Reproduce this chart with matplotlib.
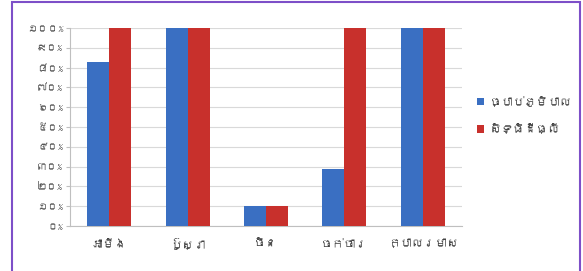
import numpy as np
import matplotlib
matplotlib.use('Agg')
import matplotlib.pyplot as plt
from matplotlib import font_manager
from matplotlib.ft2font import FT2Font
from matplotlib.patches import Rectangle

categories = ['អាមីង', 'ប៊ូស្រា', 'ចិន', 'ចក់ចារ', 'ក្បាលរមាស']
series_names = ['ច្បាប់ភូមិបាល', 'សិទ្ធិដីធ្លី']
land_law = [83, 100, 10, 29, 100]
land_rights = [100, 100, 10, 100, 100]
ytick_labels = ['០%', '១០%', '២០%', '៣០%', '៤០%', '៥០%', '៦០%', '៧០%', '៨០%', '៩០%', '១០០%']


def khmer_families():
    found = []
    for f in font_manager.fontManager.ttflist:
        try:
            if 0x1780 in FT2Font(f.fname).get_charmap() and f.name not in found:
                found.append(f.name)
        except Exception:
            pass
    return found


fams = khmer_families() + ['DejaVu Sans']
plt.rcParams['font.family'] = fams

fig = plt.figure(figsize=(5.83, 2.71), dpi=100)
ax = fig.add_axes([70 / 583, 45 / 271, 392 / 583, 198 / 271])

x = np.arange(len(categories))
w = 0.28
ax.bar(x - w / 2, land_law, w, color='#3a6fc2', label=series_names[0], zorder=3)
ax.bar(x + w / 2, land_rights, w, color='#c8302c', label=series_names[1], zorder=3)

ax.set_xlim(-0.5, len(categories) - 0.5)
ax.set_ylim(0, 100)
ax.set_yticks(np.arange(0, 101, 10))
ax.set_yticklabels(ytick_labels, fontsize=7.5, color='#555555')
ax.set_xticks(x)
ax.set_xticklabels(categories, fontsize=8.5, color='#444444')
ax.grid(axis='y', color='#d9d9d9', linewidth=0.8, zorder=0)
for s in ['top', 'right']:
    ax.spines[s].set_visible(False)
for s in ['left', 'bottom']:
    ax.spines[s].set_color('#bfbfbf')
ax.tick_params(axis='y', length=3, color='#bfbfbf', pad=2)
ax.tick_params(axis='x', length=0, pad=9)

ax.legend(loc='center left', bbox_to_anchor=(1.01, 0.56), frameon=False,
          fontsize=8.5, handlelength=0.6, handleheight=0.6, handletextpad=0.5,
          labelspacing=1.4, labelcolor='#444444')

# purple frame around the chart
fig.patches.append(Rectangle((12 / 583, -0.05), 568 / 583, 1.05 - 1.5 / 271,
                             transform=fig.transFigure, fill=False,
                             edgecolor='#7d4fc8', linewidth=1.5))

fig.savefig('out.png', dpi=100)
